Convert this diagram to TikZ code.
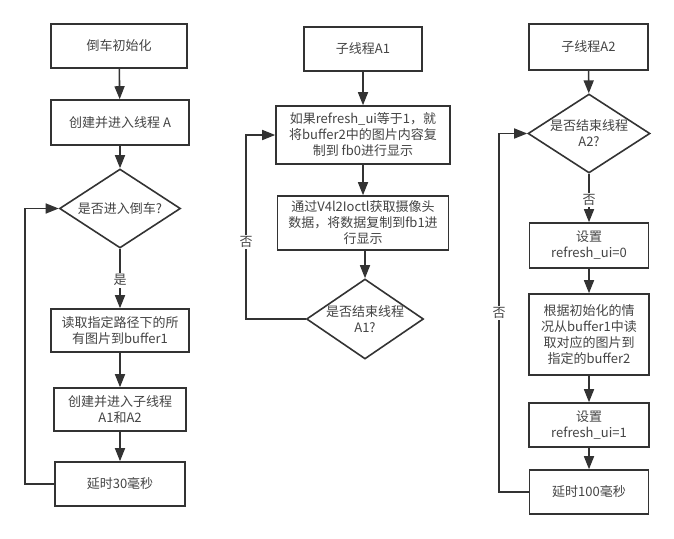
\documentclass[tikz,border=0pt]{standalone}
\usepackage{fontspec}
\setmainfont{Noto Sans CJK SC}
\usetikzlibrary{arrows.meta,shapes.geometric}
\definecolor{fc_line}{HTML}{333333}
\definecolor{fc_text}{HTML}{444444}
\tikzset{
  box/.style={draw=fc_line, line width=1.6pt, fill=white, text=fc_text, align=center, inner sep=0pt,
    font=\fontsize{13}{16}\selectfont},
  decision/.style={diamond, draw=fc_line, line width=1.6pt, fill=white, inner sep=0pt,
    minimum width=121, minimum height=79},
  dtext/.style={text=fc_text, align=center, inner sep=0pt, font=\fontsize{13}{16}\selectfont},
  flow/.style={draw=fc_line, line width=1.6pt, -{Triangle[length=13pt,width=10pt]}},
  tag/.style={fill=white, text=fc_text, inner sep=1.5pt, font=\fontsize{13}{14}\selectfont}
}
\begin{document}
\begin{tikzpicture}[x=1pt, y=-1pt]
  \useasboundingbox[fill=white] (0,0) rectangle (674,538);

  \node[box, minimum width=136, minimum height=44] (init) at (119, 46) {倒车初始化};
  \node[box, minimum width=138, minimum height=45] (thrA) at (120, 122.5) {创建并进入线程 A};
  \node[decision, label={[dtext]center:是否进入倒车?}] (rev) at (120, 208.5) {};
  \node[box, minimum width=138, minimum height=43] (readbuf) at (120, 330.5) {读取指定路径下的所\\有图片到buffer1};
  \node[box, minimum width=132, minimum height=43] (subthr) at (120, 409.5) {创建并进入子线程\\A1和A2};
  \node[box, minimum width=130, minimum height=44] (wait30) at (120, 484) {延时30毫秒};
  \coordinate (loopA) at (25, 484);

  \node[box, minimum width=118, minimum height=44] (A1) at (363, 49) {子线程A1};
  \node[box, minimum width=174, minimum height=58] (fb0) at (363, 135) {如果refresh\_ui等于1，就\\将buffer2中的图片内容复\\制到 fb0进行显示};
  \node[box, minimum width=171, minimum height=54] (fb1) at (363, 223) {通过V4l2Ioctl获取摄像头\\数据，将数据复制到fb1进\\行显示};
  \node[decision, minimum width=117, minimum height=80, label={[dtext]center:是否结束线程\\A1?}] (endA1) at (365, 319) {};
  \coordinate (loopB) at (246, 319);

  \node[box, minimum width=119, minimum height=46] (A2) at (588.5, 47) {子线程A2};
  \node[decision, minimum width=122, label={[dtext]center:是否结束线程\\A2?}] (endA2) at (589, 133.5) {};
  \node[box, minimum width=119, minimum height=45] (set0) at (589, 245.5) {设置\\refresh\_ui=0};
  \node[box, minimum width=120, minimum height=81] (copy) at (589, 334.5) {根据初始化的情\\况从buffer1中读\\取对应的图片到\\指定的buffer2};
  \node[box, minimum width=120, minimum height=44] (set1) at (589, 425) {设置\\refresh\_ui=1};
  \node[box, minimum width=119, minimum height=44] (wait100) at (589, 492) {延时100毫秒};
  \coordinate (loopC) at (499, 492);

  \draw[flow] (init) -- (thrA);
  \draw[flow] (thrA) -- (rev);
  \draw[flow] (rev) -- node[tag, pos=0.53] {是} (readbuf);
  \draw[flow] (readbuf) -- (subthr);
  \draw[flow] (subthr) -- (wait30);
  \draw[flow] (wait30.west) -- (loopA) |- (rev.west);

  \draw[flow] (A1) -- (fb0);
  \draw[flow] (fb0) -- (fb1);
  \draw[flow] (fb1.south -| endA1.north) -- (endA1);
  \draw[flow] (endA1.west) -- (loopB) |- node[tag, pos=0.21] {否} (fb0.west);

  \draw[flow] (A2) -- (endA2);
  \draw[flow] (endA2) -- node[tag, pos=0.54] {否} (set0);
  \draw[flow] (set0) -- (copy);
  \draw[flow] (copy) -- (set1);
  \draw[flow] (set1) -- (wait100);
  \draw[flow] (wait100.west) -- (loopC) |- node[tag, pos=0.25] {否} (endA2.west);
\end{tikzpicture}
\end{document}
